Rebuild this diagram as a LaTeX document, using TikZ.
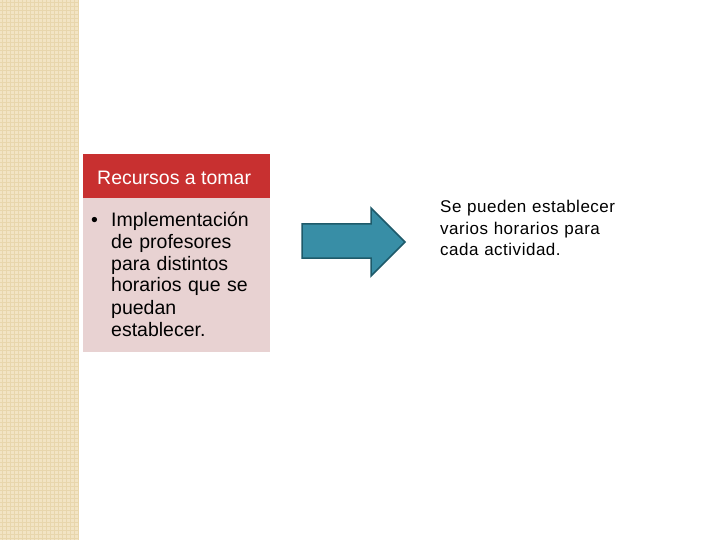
\documentclass[tikz,border=0pt]{standalone}
\usepackage{fontspec}
\setmainfont{Liberation Sans}
\newfontfamily\spacedfont[LetterSpace=3]{Liberation Sans}
\definecolor{stripe}{RGB}{242,228,196}
\definecolor{stripedot}{RGB}{232,214,172}
\definecolor{hdr}{RGB}{200,48,48}
\definecolor{bodyc}{RGB}{232,210,210}
\definecolor{arrfill}{RGB}{56,142,166}
\definecolor{arrdraw}{RGB}{30,90,106}
\begin{document}
\begin{tikzpicture}[x=1pt,y=-1pt,
  txt/.style={inner sep=0pt, anchor=base west, align=left, font=\fontsize{19.5}{22}\selectfont}]
\useasboundingbox (0,0) rectangle (720,540);
\fill[white] (0,0) rectangle (720,540);
\fill[stripe] (0,0) rectangle (78,540);
\foreach \i in {0,4,...,76} \draw[stripedot, line width=0.6pt] (\i+2,0) -- (\i+2,540);
\foreach \j in {0,4,...,540} \draw[stripedot, line width=0.6pt] (0,\j+2) -- (78,\j+2);
\node[fill=hdr, minimum width=187pt, minimum height=44pt, anchor=north west, inner sep=0pt] (hdr) at (83,154) {};
\node[fill=bodyc, minimum width=187pt, minimum height=154pt, anchor=north west, inner sep=0pt] (bod) at (83,198) {};
\node[txt, text=white] (title) at (97,185) {Recursos a tomar};
\node[txt] (bul) at (91,226) {\textbullet};
\node[txt, text width=155pt] (items) at (111,226) {Implementación\\de profesores\\para distintos\\horarios que se\\puedan\\establecer.};
\draw[arrdraw, fill=arrfill, line width=1.5pt, line join=miter]
  (302,224) -- (371,224) -- (371,208) -- (405,242) -- (371,276) -- (371,258) -- (302,258) -- cycle;
\node[txt, text width=220pt, font=\spacedfont\fontsize{17}{21.5}\selectfont] (res) at (440,213) {Se pueden establecer\\varios horarios para\\cada actividad.};
\end{tikzpicture}
\end{document}
